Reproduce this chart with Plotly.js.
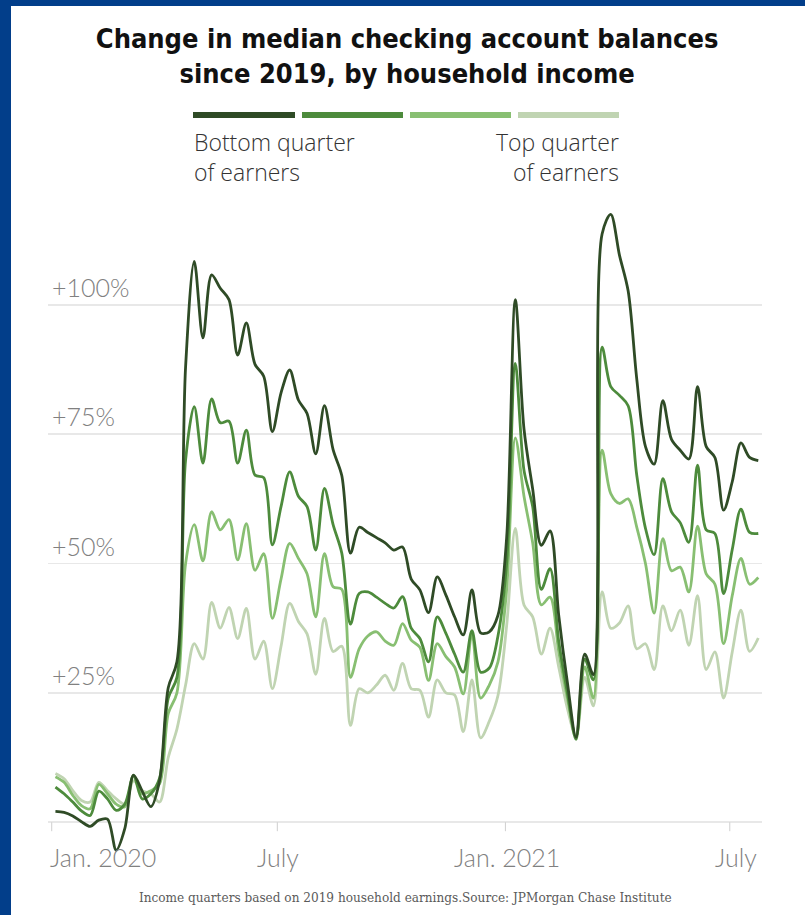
<!DOCTYPE html>
<html>
<head>
<meta charset="utf-8">
<script src="https://cdn.plot.ly/plotly-3.0.1.min.js"></script>
<style>
  html, body { margin: 0; padding: 0; background: #ffffff; }
  #wrap { position: relative; width: 805px; height: 915px; overflow: hidden; background: #fff; }
  #chart { position: absolute; left: 0; top: 0; width: 805px; height: 915px; }
  .frame { position: absolute; background: #023e8a; z-index: 5; }
</style>
</head>
<body>
<div id="wrap">
  <div id="chart"></div>
  <div class="frame" style="left:0;top:0;width:805px;height:6px;"></div>
  <div class="frame" style="left:0;top:0;width:11px;height:915px;"></div>
</div>
<script>
// ---- Data ----
const dates = [
  '2020-01-04','2020-01-11','2020-01-18','2020-01-25','2020-02-01','2020-02-08','2020-02-15','2020-02-22','2020-02-29',
  '2020-03-07','2020-03-14','2020-03-21','2020-03-28','2020-04-04','2020-04-11','2020-04-18','2020-04-25',
  '2020-05-02','2020-05-09','2020-05-16','2020-05-23','2020-05-30','2020-06-06','2020-06-13','2020-06-20','2020-06-27',
  '2020-07-04','2020-07-11','2020-07-18','2020-07-25','2020-08-01','2020-08-08','2020-08-15','2020-08-22','2020-08-29',
  '2020-09-05','2020-09-12','2020-09-19','2020-09-26','2020-10-03','2020-10-10','2020-10-17','2020-10-24','2020-10-31',
  '2020-11-07','2020-11-14','2020-11-21','2020-11-28','2020-12-05','2020-12-12','2020-12-19','2020-12-26',
  '2021-01-02','2021-01-09','2021-01-16','2021-01-23','2021-01-30','2021-02-06','2021-02-13','2021-02-20','2021-02-27',
  '2021-03-06','2021-03-13','2021-03-20','2021-03-27','2021-04-03','2021-04-10','2021-04-17','2021-04-24',
  '2021-05-01','2021-05-08','2021-05-15','2021-05-22','2021-05-29','2021-06-05','2021-06-12','2021-06-19','2021-06-26',
  '2021-07-03','2021-07-10','2021-07-17','2021-07-24'
];

const bottomQuarter = [
  2.1, 1.9, 1.2, 0.1, -0.8, 0.4, 0.6, -5.4, -1.2, 9.1, 6, 3, 8,
  26, 31, 88,
  108.4, 93.6, 105.8, 103.2, 101, 90.3, 96.5, 88.5, 86.2,
  75.5, 83, 87.4, 81.6, 79, 71.2, 80.5, 72, 67,
  52, 57, 56, 55, 54, 52.6, 53.2, 47, 44.9, 40.5,
  47.4, 43.9, 39.7, 36.2, 44.9, 36.6, 36.8, 40,
  55, 101, 76, 64.4, 53.5, 56.3, 40, 27, 16.4, 32.5, 28.5, 113.7, 117.5, 109.6, 102.7, 85.6,
  72.6, 69.2, 81.5, 74, 71.9, 70.2, 84.2, 72.6, 70.5, 60.3, 65.8, 73.3, 70.5, 69.9
];

const secondQuarter = [
  6.8, 5.5, 3.9, 2.2, 1.3, 6, 4.5, 2.3, 3.5, 9, 4.5, 5.5, 8.5,
  24, 28, 70,
  80.3, 69.4, 81.8, 77.2, 77.5, 69.4, 75.8, 67.1, 66.6,
  53.6, 61, 67.7, 63, 61, 52.6, 64.5, 57.5, 52,
  38.3, 44.2, 44.5, 43.5, 42.3, 41.4, 43.6, 37.5, 35.5, 31,
  39.7, 36.5, 32.5, 29, 37, 29, 29.8, 36,
  50, 88.7, 68, 61, 45, 49, 35, 25, 16, 31.5, 27.5, 91.8, 84.2, 82.5, 80.5, 67,
  56.8, 51.7, 66.4, 60, 57.9, 54.1, 69, 56.5, 55.8, 44.2, 52.7, 60.5, 56, 55.8
];

const thirdQuarter = [
  8.8, 7.7, 5.2, 3.2, 2.6, 7.3, 5.5, 3.5, 3, 9, 5.5, 6.1, 7.4,
  21, 25, 50,
  57.5, 50.5, 60, 56.5, 58.5, 50.7, 57.7, 48.7, 51.9,
  39.4, 47, 53.9, 51, 48, 39.7, 51.9, 45.5, 45,
  28, 33.5, 36, 36.8, 35, 34.2, 38.4, 35.2, 33.8, 27.4,
  34.5, 32, 30, 24.8, 36.5, 24, 26.5, 31,
  45, 74.3, 63, 54, 42, 43.5, 33, 24, 16.5, 30, 24, 71.9, 63.5, 61.6, 62.5, 57,
  50, 40.4, 54.8, 48.6, 49.3, 44.5, 57.2, 48, 46, 34.5, 43.8, 51, 46, 47.3
];

const topQuarter = [
  9.4, 8.4, 6.1, 4.2, 3.9, 7.7, 6.1, 4.5, 3.5, 8, 6.1, 5.5, 3.9,
  12.5, 18, 26.5,
  34.5, 31.5, 42.5, 37.5, 41.5, 35.5, 41.3, 31.5, 35,
  25.8, 34, 42.3, 38.8, 36.4, 28.6, 39.4, 33, 34,
  18.7, 25.8, 25, 26.5, 28.4, 25.5, 30.7, 25.8, 25.5, 20.3,
  27.5, 25, 24.6, 17.5, 27.5, 16.3, 19.5, 24.5,
  38, 56.8, 42, 39.7, 32.5, 37.5, 30, 22, 16.5, 28, 22.5, 44.5, 37.5, 38.5, 41.8, 33.5,
  34.5, 29.5, 41.8, 37, 41, 34.2, 43.8, 29.5, 32.9, 24, 32.9, 41, 33, 35.6
];

const seriesNames = ['Bottom quarter', 'Second quarter', 'Third quarter', 'Top quarter'];
const seriesColors = ['#2f4b26', '#4d8b3c', '#88bf72', '#c0d4b2'];

const yTickVals = [0, 25, 50, 75, 100];
const yTickText = ['', '+25%', '+50%', '+75%', '+100%'];

const xTickVals = ['2020-01-01', '2020-07-01', '2021-01-01', '2021-07-01'];
const xTickText = ['Jan. 2020', 'July', 'Jan. 2021', 'July'];
const xTickAnchor = ['left', 'center', 'center', 'center'];
const xTickShift = [-4, 1, 2, 6];

const titleText = 'Change in median checking account balances<br>since 2019, by household income';
const legendLeftText = 'Bottom quarter<br>of earners';
const legendRightText = 'Top quarter<br>of earners';
const footerText = 'Income quarters based on 2019 household earnings.Source: JPMorgan Chase Institute';

// ---- Layout geometry ----
const M = { l: 48, r: 43, t: 191, b: 54 };
const PW = 805 - M.l - M.r, PH = 915 - M.t - M.b;
const px2x = px => (px - M.l) / PW;
const py2y = py => (915 - M.b - py) / PH;

const allSeries = [bottomQuarter, secondQuarter, thirdQuarter, topQuarter];
const traces = [];
for (let k = allSeries.length - 1; k >= 0; k--) {
  traces.push({
    type: 'scatter', mode: 'lines', name: seriesNames[k],
    x: dates, y: allSeries[k],
    line: { color: seriesColors[k], width: 2.8, shape: 'spline', smoothing: 0.9 },
    hoverinfo: 'skip'
  });
}

const shapes = [];
// legend bars
const barLeft = [193, 302, 410, 518], barRight = [295, 403, 511, 619];
for (let k = 0; k < 4; k++) {
  shapes.push({ type: 'line', xref: 'paper', yref: 'paper',
    x0: px2x(barLeft[k]), x1: px2x(barRight[k]), y0: py2y(115), y1: py2y(115),
    line: { color: seriesColors[k], width: 6 } });
}
// small tick marks below the zero line
xTickVals.forEach(d => {
  shapes.push({ type: 'line', xref: 'x', yref: 'y', ysizemode: 'pixel', yanchor: 0,
    x0: d, x1: d, y0: 0, y1: -9, line: { color: '#cfcfcf', width: 1 } });
});

const annotations = [];
yTickVals.forEach((v, i) => {
  if (!yTickText[i]) return;
  annotations.push({ xref: 'paper', yref: 'y', x: 0, y: v, xanchor: 'left', yanchor: 'middle',
    xshift: 2, yshift: 18, showarrow: false, text: yTickText[i],
    font: { family: 'Lato, sans-serif', size: 25, weight: 300, color: '#808080' } });
});
xTickVals.forEach((d, i) => {
  annotations.push({ xref: 'x', yref: 'paper', x: d, y: py2y(857), xanchor: xTickAnchor[i], yanchor: 'middle',
    xshift: xTickShift[i], showarrow: false, text: xTickText[i],
    font: { family: 'Lato, sans-serif', size: 25, weight: 300, color: '#808080' } });
});
const legendFont = { family: '"Open Sans", sans-serif', size: 23, weight: 300, color: '#333333' };
annotations.push({ xref: 'paper', yref: 'paper', x: px2x(192), y: py2y(157), xanchor: 'left', yanchor: 'middle',
  align: 'left', showarrow: false, text: legendLeftText, font: legendFont });
annotations.push({ xref: 'paper', yref: 'paper', x: px2x(621), y: py2y(157), xanchor: 'right', yanchor: 'middle',
  align: 'right', showarrow: false, text: legendRightText, font: legendFont });
annotations.push({ xref: 'paper', yref: 'paper', x: px2x(405), y: py2y(898), xanchor: 'center', yanchor: 'middle',
  showarrow: false, text: footerText,
  font: { family: '"DejaVu Serif", serif', size: 12.1, color: '#5a5a5a' } });

const layout = {
  width: 805, height: 915,
  margin: M,
  paper_bgcolor: '#ffffff', plot_bgcolor: '#ffffff',
  showlegend: false,
  title: { text: titleText, x: 0.503, xanchor: 'center', xref: 'paper', yref: 'container', y: 1 - 48 / 915, yanchor: 'middle',
    font: { family: '"Liberation Sans Narrow", "DejaVu Sans Condensed", "Arial Narrow", sans-serif', size: 27, weight: 700, color: '#111111' } },
  xaxis: { type: 'date', range: ['2019-12-29', '2021-07-27'], showgrid: false, zeroline: false,
    showticklabels: false, ticks: '', showline: false, fixedrange: true },
  yaxis: { range: [-7.5, 122], tickvals: yTickVals, showticklabels: false, ticks: '',
    showgrid: true, gridcolor: '#e8e8e8', gridwidth: 1.5, zeroline: false, showline: false, fixedrange: true },
  shapes: shapes,
  annotations: annotations
};

Plotly.newPlot('chart', traces, layout, { staticPlot: true, displayModeBar: false });
</script>
</body>
</html>
